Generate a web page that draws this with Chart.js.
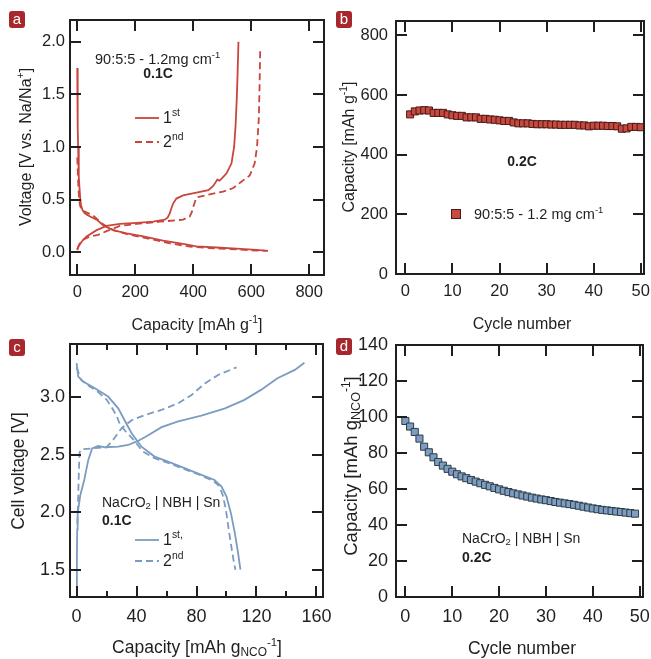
<!DOCTYPE html>
<html lang="en">
<head>
<meta charset="UTF-8">
<title>Sn anode half cell and NaCrO2 | NBH | Sn full cell</title>
<style>
  body { margin: 0; background: #fff; font-family: 'Liberation Sans', Arial, sans-serif; color: #1f1f1f; }
  #wrap { position: relative; width: 651px; height: 659px; overflow: hidden; }
  canvas { position: absolute; }
  .t { position: absolute; white-space: nowrap; font-size: 16px; line-height: 1; }
  .big { font-size: 17.5px; }
  .ytitle { transform: translate(-50%, -50%) rotate(-90deg); }
  .ctr { transform: translate(-50%, -50%); }
  .left { transform: translateY(-50%); }
  .note { font-size: 14.5px; }
  .small { font-size: 14px; }
  b { font-weight: bold; }
  sup { font-size: 0.65em; vertical-align: 0.6em; }
  sub { font-size: 0.68em; vertical-align: -0.25em; }
  .badge { position: absolute; width: 16px; height: 17px; background: #a8272d; color: #fff; border-radius: 3px;
           font-size: 15px; line-height: 16px; text-align: center; }
  .sq { position: absolute; width: 8px; height: 8px; background: #c8493f; border: 1px solid #4a1c18; }
  svg.leg { position: absolute; overflow: visible; }
</style>
</head>
<body>
<div id="wrap">
  <canvas id="ca" width="345" height="345" style="left:0;top:0"></canvas>
  <canvas id="cb" width="345" height="345" style="left:325px;top:0"></canvas>
  <canvas id="cc" width="345" height="344" style="left:0;top:315px"></canvas>
  <canvas id="cd" width="345" height="344" style="left:325px;top:315px"></canvas>

  <div class="badge" style="left:9px;top:11px">a</div>
  <div class="badge" style="left:336px;top:11px">b</div>
  <div class="badge" style="left:9px;top:339px">c</div>
  <div class="badge" style="left:336px;top:338px">d</div>

  <!-- panel a -->
  <div class="t ytitle" style="left:25px;top:147px">Voltage [V vs. Na/Na<sup>+</sup>]</div>
  <div class="t ctr" style="left:197px;top:324px">Capacity [mAh g<sup>-1</sup>]</div>
  <div class="t note left" style="left:95px;top:58px">90:5:5 - 1.2mg cm<sup>-1</sup></div>
  <div class="t small ctr" style="left:158px;top:73px"><b>0.1C</b></div>
  <svg class="leg" style="left:135px;top:118px" width="24" height="2"><line x1="0" y1="0" x2="24" y2="0" stroke="#c9463d" stroke-width="1.8"/></svg>
  <svg class="leg" style="left:135px;top:142px" width="24" height="2"><line x1="0" y1="0" x2="24" y2="0" stroke="#c9463d" stroke-width="1.8" stroke-dasharray="7 4"/></svg>
  <div class="t left" style="left:163px;top:117px">1<sup>st</sup></div>
  <div class="t left" style="left:163px;top:141px">2<sup>nd</sup></div>

  <!-- panel b -->
  <div class="t ytitle" style="left:348px;top:147px">Capacity [mAh g<sup>-1</sup>]</div>
  <div class="t ctr" style="left:522px;top:324px">Cycle number</div>
  <div class="t small ctr" style="left:522px;top:161px"><b>0.2C</b></div>
  <div class="sq" style="left:451px;top:209px"></div>
  <div class="t note left" style="left:474px;top:213px">90:5:5 - 1.2 mg cm<sup>-1</sup></div>

  <!-- panel c -->
  <div class="t big ytitle" style="left:19px;top:471px">Cell voltage [V]</div>
  <div class="t big ctr" style="left:197px;top:648px">Capacity [mAh g<sub>NCO</sub><sup>-1</sup>]</div>
  <div class="t small left" style="left:102px;top:503px">NaCrO<sub>2</sub> | NBH | Sn</div>
  <div class="t small left" style="left:102px;top:520px"><b>0.1C</b></div>
  <svg class="leg" style="left:135px;top:540px" width="24" height="2"><line x1="0" y1="0" x2="24" y2="0" stroke="#7b9cc0" stroke-width="1.8"/></svg>
  <svg class="leg" style="left:135px;top:561px" width="24" height="2"><line x1="0" y1="0" x2="24" y2="0" stroke="#7b9cc0" stroke-width="1.8" stroke-dasharray="7 4"/></svg>
  <div class="t left" style="left:163px;top:539px">1<sup>st,</sup></div>
  <div class="t left" style="left:163px;top:560px">2<sup>nd</sup></div>

  <!-- panel d -->
  <div class="t big ytitle" style="left:351px;top:466px;font-size:18.5px">Capacity [mAh g<sub>NCO</sub><sup>-1</sup>]</div>
  <div class="t big ctr" style="left:522px;top:649px">Cycle number</div>
  <div class="t small left" style="left:462px;top:539px">NaCrO<sub>2</sub> | NBH | Sn</div>
  <div class="t small left" style="left:462px;top:557px"><b>0.2C</b></div>
</div>

<script src="https://cdn.jsdelivr.net/npm/chart.js"></script>
<script>
// ---- panel a: Sn half cell, voltage profiles (capacity mAh/g, voltage V)
const aDis1Cap = [0, 1, 2, 3, 4.5, 6, 8, 10, 13, 18, 26, 35, 44, 67, 90, 124, 170, 228, 296, 365, 411, 480, 549, 618, 658];
const aDis1V   = [1.75, 1.45, 1.2, 1.0, 0.85, 0.72, 0.6, 0.52, 0.45, 0.4, 0.37, 0.355, 0.34, 0.31, 0.255, 0.21, 0.18, 0.15, 0.11, 0.08, 0.055, 0.045, 0.035, 0.022, 0.013];
const aCha1Cap = [0, 5, 15, 32, 67, 101, 147, 205, 262, 302, 312, 319, 325, 331, 342, 365, 411, 452, 469, 483, 490, 498, 515, 532, 541, 546, 550, 553, 556];
const aCha1V   = [0.02, 0.06, 0.1, 0.15, 0.21, 0.25, 0.27, 0.28, 0.29, 0.31, 0.33, 0.37, 0.42, 0.465, 0.51, 0.54, 0.566, 0.59, 0.63, 0.69, 0.68, 0.70, 0.75, 0.845, 1.0, 1.2, 1.45, 1.7, 2.0];
const aDis2Cap = [0, 2, 4, 6, 9, 15, 26, 55, 84, 124, 182, 250, 320, 388, 457, 526, 595, 653];
const aDis2V   = [0.9, 0.75, 0.62, 0.52, 0.45, 0.4, 0.386, 0.35, 0.275, 0.21, 0.165, 0.127, 0.085, 0.054, 0.04, 0.03, 0.02, 0.013];
const aCha2Cap = [0, 8, 20, 44, 72, 101, 147, 205, 285, 365, 388, 395, 400, 406, 411, 457, 503, 538, 566, 595, 612, 620, 626, 629, 631];
const aCha2V   = [0.03, 0.08, 0.12, 0.15, 0.165, 0.2, 0.25, 0.27, 0.29, 0.31, 0.34, 0.38, 0.43, 0.48, 0.52, 0.55, 0.576, 0.61, 0.67, 0.73, 0.845, 1.0, 1.26, 1.6, 1.93];
const aTicksX = [0, 200, 400, 600, 800];
const aTicksY = [0, 0.5, 1.0, 1.5, 2.0];

// ---- panel b: half cell cycling at 0.2C
const bCycles = [1,2,3,4,5,6,7,8,9,10,11,12,13,14,15,16,17,18,19,20,21,22,23,24,25,26,27,28,29,30,31,32,33,34,35,36,37,38,39,40,41,42,43,44,45,46,47,48,49,50];
const bCapacity = [535, 545, 548, 549, 548, 540, 540, 540, 535, 532, 530, 530, 525, 525, 525, 520, 520, 518, 517, 515,
                   513, 513, 508, 505, 505, 505, 503, 502, 502, 502, 501, 501, 500, 500, 500, 500, 498, 498, 495, 497,
                   497, 497, 496, 496, 495, 487, 488, 493, 493, 492];
const bTicksX = [0, 10, 20, 30, 40, 50];
const bTicksY = [0, 200, 400, 600, 800];

// ---- panel c: full cell voltage profiles (capacity mAh/g NCO, voltage V)
const cCha1Cap = [0, 0.2, 0.4, 0.7, 2.5, 5.1, 7.8, 10.4, 14.4, 19, 27.8, 34.4, 41, 47.8, 56.7, 67.8, 83.3, 99, 112, 123, 134, 145.6, 152];
const cCha1V   = [1.27, 1.6, 1.85, 1.99, 2.15, 2.28, 2.455, 2.556, 2.577, 2.565, 2.57, 2.585, 2.62, 2.67, 2.74, 2.79, 2.84, 2.904, 2.977, 3.064, 3.165, 3.238, 3.3];
const cDis1Cap = [0, 1.1, 4.4, 12.2, 21, 27.8, 32, 36.7, 43.3, 52, 61, 72, 83.3, 92, 96.7, 100, 103, 105.6, 107.8, 109.3];
const cDis1V   = [3.296, 3.18, 3.136, 3.078, 3.006, 2.904, 2.8, 2.687, 2.57, 2.484, 2.44, 2.383, 2.325, 2.281, 2.223, 2.136, 1.99, 1.817, 1.64, 1.5];
const cCha2Cap = [0.5, 1, 1.5, 2, 3.3, 12.2, 20, 24.4, 30, 36.7, 45.6, 56.7, 67.8, 76.7, 85.6, 94.4, 106.7];
const cCha2V   = [1.9, 2.1, 2.35, 2.52, 2.548, 2.557, 2.565, 2.63, 2.73, 2.8, 2.846, 2.89, 2.948, 3.02, 3.12, 3.194, 3.26];
const cDis2Cap = [0, 3, 8, 14, 20, 24, 27, 29, 31, 33, 38, 44, 52, 61, 72, 83, 91, 95, 97.5, 99.5, 101.5, 103.5, 105, 106];
const cDis2V   = [3.26, 3.15, 3.1, 3.05, 2.98, 2.9, 2.83, 2.76, 2.73, 2.7, 2.63, 2.53, 2.47, 2.43, 2.375, 2.32, 2.275, 2.23, 2.15, 2.03, 1.85, 1.68, 1.56, 1.5];
const cTicksX = [0, 40, 80, 120, 160];
const cMinorX = [20, 60, 100, 140];
const cTicksY = [1.5, 2.0, 2.5, 3.0];

// ---- panel d: full cell cycling at 0.2C
const dCycles = [0,1,2,3,4,5,6,7,8,9,10,11,12,13,14,15,16,17,18,19,20,21,22,23,24,25,26,27,28,29,30,31,32,33,34,35,36,37,38,39,40,41,42,43,44,45,46,47,48,49];
const dCapacity = [97.8, 94.7, 91.7, 88, 83.5, 80.4, 77.6, 75, 73, 71.2, 69.6, 68.2, 67, 66, 65, 64.1, 63.2, 62.3, 61.5, 60.6,
                   59.8, 59, 58.3, 57.6, 57, 56.4, 55.8, 55.2, 54.7, 54.2, 53.8, 53.3, 52.8, 52.4, 52, 51.6, 51.2, 50.7, 50.2, 49.7,
                   49.2, 48.8, 48.4, 48.1, 47.8, 47.5, 47.2, 46.9, 46.6, 46.3];
const dTicksX = [0, 10, 20, 30, 40, 50];
const dTicksY = [0, 20, 40, 60, 80, 100, 120, 140];

const RED = '#c9463d';
const BLUE = '#7b9cc0';
const INK = '#1f1f1f';
const YW = 60, XH = 40;

function pts(xs, ys) { return xs.map((x, i) => ({ x: x, y: ys[i] })); }

// frame box and inward ticks on all four sides
const frameTicks = {
    id: 'frameTicks',
    afterDraw(chart, args, opts) {
        const { ctx, chartArea: a, scales: { x, y } } = chart;
        ctx.save();
        ctx.strokeStyle = INK;
        ctx.lineWidth = 2;
        ctx.beginPath();
        const tick = (v, len, horiz) => {
            if (horiz) {
                const p = Math.round(x.getPixelForValue(v));
                ctx.moveTo(p, a.bottom); ctx.lineTo(p, a.bottom - len);
                ctx.moveTo(p, a.top); ctx.lineTo(p, a.top + len);
            } else {
                const p = Math.round(y.getPixelForValue(v));
                ctx.moveTo(a.left, p); ctx.lineTo(a.left + len, p);
                ctx.moveTo(a.right, p); ctx.lineTo(a.right - len, p);
            }
        };
        x.ticks.forEach(t => tick(t.value, 11, true));
        y.ticks.forEach(t => tick(t.value, 11, false));
        (opts.xMinor || []).forEach(v => tick(v, 6, true));
        ctx.stroke();
        ctx.strokeRect(a.left, a.top, a.right - a.left, a.bottom - a.top);
        ctx.restore();
    }
};

function makePanel(id, cv, box, xr, yr, xTicks, yTicks, yFmt, fs, xPad, yPad, datasets, xMinor) {
    const pad = {
        left: box.l - cv.x - YW,
        top: box.t - cv.y,
        right: cv.x + cv.w - box.r,
        bottom: cv.y + cv.h - box.b - XH
    };
    const font = { family: "'Liberation Sans', Arial, sans-serif", size: fs };
    return new Chart(document.getElementById(id), {
        type: 'scatter',
        data: { datasets: datasets },
        options: {
            responsive: false,
            animation: false,
            devicePixelRatio: 1,
            layout: { padding: pad },
            plugins: { legend: { display: false }, tooltip: { enabled: false }, frameTicks: { xMinor: xMinor } },
            scales: {
                x: {
                    type: 'linear', min: xr[0], max: xr[1],
                    grid: { display: false, drawTicks: false }, border: { display: false },
                    ticks: { color: INK, font: font, padding: xPad, maxRotation: 0, callback: v => String(v) },
                    afterBuildTicks: s => { s.ticks = xTicks.map(v => ({ value: v })); },
                    afterFit: s => { s.height = XH; }
                },
                y: {
                    type: 'linear', min: yr[0], max: yr[1],
                    grid: { display: false, drawTicks: false }, border: { display: false },
                    ticks: { color: INK, font: font, padding: yPad, callback: yFmt },
                    afterBuildTicks: s => { s.ticks = yTicks.map(v => ({ value: v })); },
                    afterFit: s => { s.width = YW; }
                }
            }
        },
        plugins: [frameTicks]
    });
}

function curve(xs, ys, color, dashed) {
    return {
        data: pts(xs, ys), showLine: true, pointRadius: 0, borderColor: color,
        borderWidth: 1.8, borderDash: dashed ? [7, 4] : [], fill: false
    };
}

function squares(xs, ys, fill, edge, r) {
    return {
        data: pts(xs, ys), showLine: false, pointStyle: 'rect', pointRadius: r,
        backgroundColor: fill, borderColor: edge, borderWidth: 1
    };
}

makePanel('ca', { x: 0, y: 0, w: 345, h: 345 }, { l: 70, t: 20, r: 324, b: 275 },
    [-25, 851], [-0.216, 2.206], aTicksX, aTicksY, v => v.toFixed(1), 16.5, 8, 5, [
        curve(aDis2Cap, aDis2V, RED, true),
        curve(aCha2Cap, aCha2V, RED, true),
        curve(aDis1Cap, aDis1V, RED, false),
        curve(aCha1Cap, aCha1V, RED, false)
    ]);

makePanel('cb', { x: 325, y: 0, w: 345, h: 345 }, { l: 396, t: 21, r: 644, b: 274 },
    [-2, 50.7], [0, 848], bTicksX, bTicksY, v => String(v), 16.5, 8, 8, [
        squares(bCycles, bCapacity, '#c8493f', '#4a1c18', 5)
    ]);

makePanel('cc', { x: 0, y: 315, w: 345, h: 344 }, { l: 70, t: 344, r: 323, b: 597 },
    [-4.4, 164.4], [1.263, 3.463], cTicksX, cTicksY, v => v.toFixed(1), 18, 9, 5, [
        curve(cDis2Cap, cDis2V, BLUE, true),
        curve(cCha2Cap, cCha2V, BLUE, true),
        curve(cDis1Cap, cDis1V, BLUE, false),
        curve(cCha1Cap, cCha1V, BLUE, false)
    ], cMinorX);

makePanel('cd', { x: 325, y: 315, w: 345, h: 344 }, { l: 396, t: 345, r: 643, b: 597 },
    [-2, 50.7], [0, 140], dTicksX, dTicksY, v => String(v), 18, 9, 8, [
        squares(dCycles, dCapacity, '#7d9ec0', '#2e3b48', 5)
    ]);
</script>
</body>
</html>
